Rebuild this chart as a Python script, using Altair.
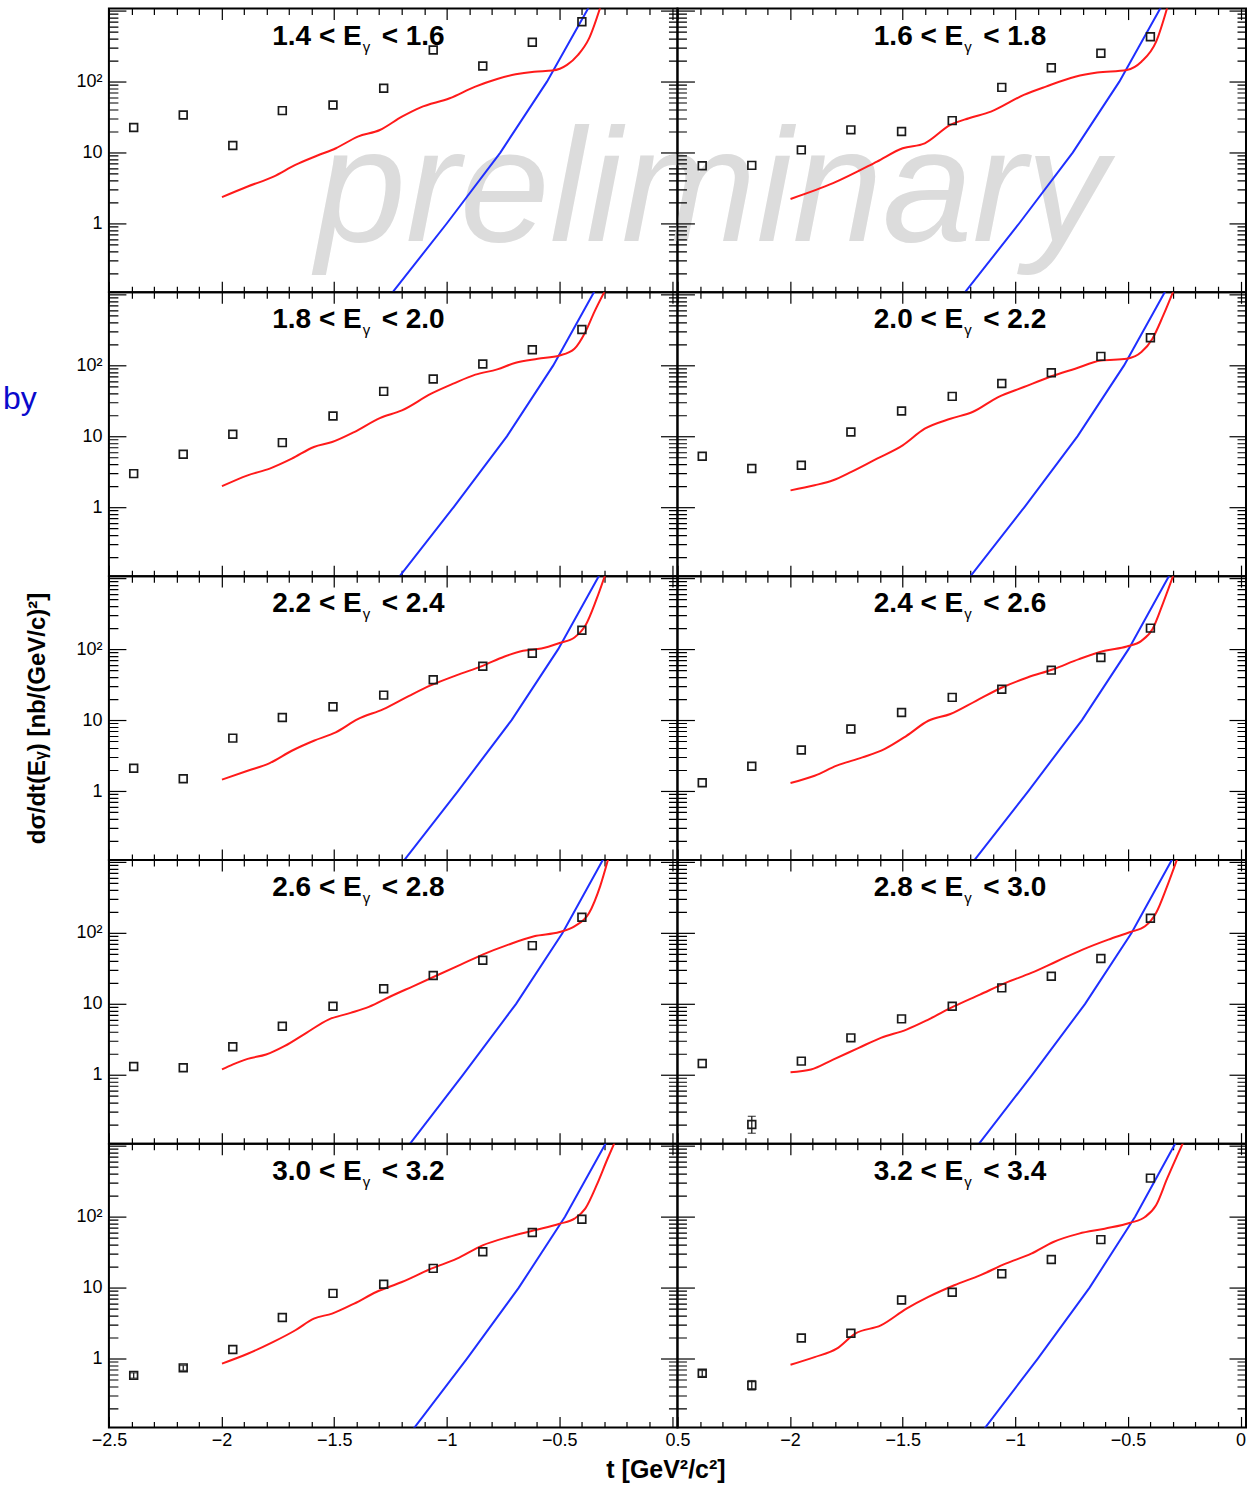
import altair as alt
import pandas as pd

# ---------------- data ----------------
TITLE_LEFT = ["1.4 < E", "1.6 < E", "1.8 < E", "2.0 < E", "2.2 < E",
              "2.4 < E", "2.6 < E", "2.8 < E", "3.0 < E", "3.2 < E"]
TITLE_SUB = "\u03b3"
TITLE_RIGHT = ["< 1.6", "< 1.8", "< 2.0", "< 2.2", "< 2.4",
               "< 2.6", "< 2.8", "< 3.0", "< 3.2", "< 3.4"]

T_POINTS = [-2.39, -2.17, -1.95, -1.73, -1.505, -1.28, -1.06, -0.84, -0.62, -0.40]

V_POINTS = [
    [22.5, 33.9, 12.6, 39, 46.9, 80.5, 279, 166, 358, 700],
    [6.5, 6.6, 10.9, 20.9, 19.8, 28.2, 83, 157, 251, 430],
    [2.98, 5.58, 10.7, 8.15, 19.3, 43, 64.2, 104.5, 166, 321],
    [5.23, 3.51, 3.9, 11.5, 22.7, 36.6, 55.7, 78.8, 134, 245],
    [2.09, 1.49, 5.57, 10.9, 15.4, 22.5, 37, 57.6, 87.8, 185],
    [1.31, 2.23, 3.78, 7.47, 12.8, 20.9, 27.3, 50.6, 76.3, 198],
    [1.31, 1.26, 2.48, 4.85, 9.27, 16.3, 25.1, 41.2, 66.3, 166],
    [1.44, 0.2, 1.56, 3.32, 6.15, 9.27, 16.8, 24.5, 43.5, 161],
    [0.58, 0.74, 1.34, 3.8, 8.3, 11.2, 18.7, 32, 60, 92],
    [0.62, 0.42, 1.95, 2.27, 6.7, 8.6, 15.7, 25, 47.5, 350],
]

# error bars (panel index counted from 0, point index)
ERR_PANEL = [7, 8, 8, 9, 9]
ERR_INDEX = [1, 0, 1, 0, 1]
ERR_LO = [0.15, 0.53, 0.68, 0.56, 0.36]
ERR_HI = [0.26, 0.63, 0.80, 0.68, 0.49]

RED_T = [
    [-1.998, -1.884, -1.769, -1.672, -1.574, -1.492, -1.395, -1.297, -1.199, -1.118, -0.987, -0.873, -0.776, -0.694, -0.612, -0.531, -0.466, -0.417, -0.368, -0.315],
    [-1.998, -1.809, -1.614, -1.5, -1.402, -1.288, -1.206, -1.108, -0.962, -0.864, -0.734, -0.636, -0.505, -0.44, -0.375, -0.322],
    [-1.998, -1.884, -1.786, -1.688, -1.59, -1.509, -1.411, -1.297, -1.199, -1.069, -0.971, -0.873, -0.776, -0.694, -0.596, -0.499, -0.433, -0.385, -0.345, -0.293],
    [-1.998, -1.891, -1.809, -1.728, -1.614, -1.5, -1.402, -1.288, -1.19, -1.076, -0.962, -0.848, -0.734, -0.62, -0.505, -0.44, -0.391, -0.343, -0.294],
    [-1.998, -1.884, -1.786, -1.688, -1.59, -1.493, -1.395, -1.281, -1.167, -1.069, -0.955, -0.841, -0.743, -0.661, -0.58, -0.499, -0.433, -0.385, -0.335, -0.293],
    [-1.998, -1.891, -1.793, -1.679, -1.581, -1.483, -1.386, -1.288, -1.174, -1.059, -0.946, -0.831, -0.717, -0.603, -0.505, -0.44, -0.391, -0.343, -0.294],
    [-1.998, -1.949, -1.884, -1.802, -1.721, -1.623, -1.525, -1.427, -1.346, -1.248, -1.15, -1.052, -0.938, -0.841, -0.726, -0.612, -0.499, -0.433, -0.368, -0.319, -0.28],
    [-1.998, -1.907, -1.809, -1.695, -1.597, -1.483, -1.386, -1.271, -1.157, -1.043, -0.929, -0.815, -0.701, -0.587, -0.489, -0.424, -0.375, -0.326, -0.277],
    [-1.998, -1.884, -1.77, -1.672, -1.59, -1.509, -1.411, -1.313, -1.199, -1.069, -0.955, -0.841, -0.726, -0.612, -0.499, -0.433, -0.385, -0.335, -0.286, -0.25],
    [-1.998, -1.891, -1.793, -1.711, -1.597, -1.483, -1.386, -1.271, -1.157, -1.043, -0.929, -0.831, -0.717, -0.603, -0.489, -0.424, -0.375, -0.326, -0.25],
]
RED_V = [
    [2.35, 3.32, 4.59, 6.70, 9.08, 11.5, 16.8, 20.8, 32.1, 43.1, 58.2, 85.1, 109, 127, 138, 143, 172, 238, 407, 1200],
    [2.22, 3.70, 7.46, 11.5, 13.5, 24.5, 30.5, 37.8, 64.9, 85.1, 117, 134, 146, 191, 363, 1200],
    [1.98, 2.82, 3.51, 4.84, 7.08, 8.32, 11.5, 18.1, 23.2, 39.9, 55.2, 74.0, 87.9, 109, 124, 138, 172, 294, 564, 1200],
    [1.73, 2.04, 2.40, 3.15, 4.84, 7.46, 12.8, 17.7, 22.0, 35.8, 49.5, 68.5, 89.8, 117, 124, 154, 238, 506, 1200],
    [1.45, 1.93, 2.48, 3.70, 5.12, 6.70, 10.3, 14.3, 22.0, 31.1, 43.1, 58.2, 78.8, 94.8, 102, 122, 146, 213, 506, 1200],
    [1.30, 1.64, 2.28, 2.98, 3.91, 6.01, 9.79, 12.2, 18.7, 28.8, 39.9, 52.2, 72.3, 94.8, 109, 131, 191, 454, 1200],
    [1.19, 1.40, 1.68, 1.93, 2.53, 3.91, 6.01, 7.46, 9.08, 12.8, 17.7, 24.5, 35.8, 49.5, 68.5, 89.8, 103, 124, 191, 454, 1200],
    [1.09, 1.19, 1.64, 2.40, 3.32, 4.34, 6.01, 9.27, 13.5, 19.8, 27.3, 39.9, 58.2, 80.5, 103, 124, 191, 454, 1200],
    [0.85, 1.17, 1.72, 2.51, 3.66, 4.31, 5.96, 8.69, 12.0, 18.5, 25.6, 39.4, 51.8, 64.3, 79.6, 93.8, 130, 276, 656, 1200],
    [0.82, 1.05, 1.38, 2.25, 2.94, 5.06, 7.40, 10.8, 14.9, 21.8, 30.1, 44.0, 57.7, 67.8, 82.2, 98.9, 145, 343, 1200],
]

BLUE_V = [0.1, 1, 10, 100, 1000, 3000]
BLUE_T = [
    [-1.248, -1.0, -0.762, -0.555, -0.378, -0.294],
    [-1.231, -0.983, -0.745, -0.538, -0.362, -0.278],
    [-1.216, -0.97, -0.733, -0.527, -0.352, -0.268],
    [-1.206, -0.96, -0.724, -0.517, -0.342, -0.258],
    [-1.195, -0.95, -0.712, -0.505, -0.33, -0.246],
    [-1.188, -0.942, -0.704, -0.497, -0.323, -0.239],
    [-1.17, -0.928, -0.692, -0.486, -0.312, -0.228],
    [-1.168, -0.925, -0.69, -0.484, -0.31, -0.226],
    [-1.15, -0.91, -0.68, -0.475, -0.30, -0.216],
    [-1.14, -0.9, -0.67, -0.468, -0.295, -0.211],
]

Y_TICKS = [0.2, 0.3, 0.4, 0.5, 0.6, 0.7, 0.8, 0.9, 1, 2, 3, 4, 5, 6, 7, 8, 9,
           10, 20, 30, 40, 50, 60, 70, 80, 90, 100, 200, 300, 400, 500, 600, 700, 800, 900, 1000]
X_TICKS = [-2.5, -2.4, -2.3, -2.2, -2.1, -2.0, -1.9, -1.8, -1.7, -1.6, -1.5, -1.4, -1.3, -1.2, -1.1,
           -1.0, -0.9, -0.8, -0.7, -0.6, -0.5, -0.4, -0.3, -0.2, -0.1, 0.0]

Y_TITLE = "d\u03c3/dt(E\u1d67) [nb/(GeV/c)\u00b2]"
X_TITLE = "t [GeV\u00b2/c\u00b2]"

# ---------------- styling ----------------
PANEL_W, PANEL_H = 569, 284
T_DOMAIN = [-2.5, 0.0244]
Y_DOMAIN = [0.107, 1070]
FONT = "Liberation Sans"
YMAJ, YMIN = 17, 9
XMAJ, XMIN = 11, 6

Y_MINOR_TEST = "indexof([1, 10, 100, 1000], datum.value) < 0"
X_MINOR_TEST = "abs(datum.value * 2 - round(datum.value * 2)) > 0.001"
Y_LABEL_EXPR = "datum.value == 1 ? '1' : datum.value == 10 ? '10' : datum.value == 100 ? '10\u00b2' : ''"
X_LABEL_LEFT = ("abs(datum.value * 2 - round(datum.value * 2)) > 0.001 || datum.value > -0.01 ? '' : "
                "format(datum.value, '~g')")
X_LABEL_RIGHT = ("abs(datum.value * 2 - round(datum.value * 2)) > 0.001 ? '' : "
                 "datum.value < -2.49 ? '0.5' : format(datum.value, '~g')")


def y_axis(orient, show_labels, title=None):
    kw = dict(orient=orient, values=Y_TICKS, offset=-YMAJ, tickSize=YMAJ, tickWidth=1.2,
              tickColor="black", domain=False, grid=False, labelOverlap=False,
              tickDash={"condition": {"test": Y_MINOR_TEST, "value": [0, YMAJ - YMIN, YMIN, 0]},
                        "value": [YMAJ, 0]})
    if show_labels:
        kw.update(labels=True, labelExpr=Y_LABEL_EXPR, labelFont=FONT, labelFontSize=18,
                  labelColor="black", labelPadding=7)
    else:
        kw.update(labels=False)
    if title:
        kw.update(title=title, titleFont=FONT, titleFontSize=24, titleFontWeight="bold",
                  titleColor="black", titlePadding=26)
    else:
        kw.update(title=None)
    return alt.Axis(**kw)


def x_axis(orient, label_expr=None, title=None):
    kw = dict(orient=orient, values=X_TICKS, offset=-XMAJ, tickSize=XMAJ, tickWidth=1.2,
              tickColor="black", domain=False, grid=False, labelOverlap=False, labelFlush=False,
              tickDash={"condition": {"test": X_MINOR_TEST, "value": [0, XMAJ - XMIN, XMIN, 0]},
                        "value": [XMAJ, 0]})
    if label_expr:
        kw.update(labels=True, labelExpr=label_expr, labelFont=FONT, labelFontSize=18,
                  labelColor="black", labelPadding=4)
    else:
        kw.update(labels=False)
    if title:
        kw.update(title=title, titleFont=FONT, titleFontSize=25, titleFontWeight="bold",
                  titleColor="black", titlePadding=8, titleX=557)
    else:
        kw.update(title=None)
    return alt.Axis(**kw)


XS = alt.Scale(domain=T_DOMAIN, nice=False, zero=False)
YS = alt.Scale(type="log", domain=Y_DOMAIN, nice=False)


def text_layer(s, x, y, **mk):
    return alt.Chart(pd.DataFrame({"s": [s]})).mark_text(font=FONT, **mk).encode(
        text="s:N", x=alt.value(x), y=alt.value(y))


def panel(i):
    row, col = divmod(i, 2)
    bottom = row == 4
    left = col == 0
    pts = pd.DataFrame({"t": T_POINTS, "v": V_POINTS[i]})
    red = pd.DataFrame({"t": RED_T[i], "v": RED_V[i]})
    blue = pd.DataFrame({"t": BLUE_T[i], "v": BLUE_V})

    if bottom:
        bx = x_axis("bottom", X_LABEL_LEFT if left else X_LABEL_RIGHT,
                    X_TITLE if left else None)
    else:
        bx = x_axis("bottom")
    ly = y_axis("left", left, Y_TITLE if (left and row == 2) else None)

    layers = []
    if i == 0:
        layers.append(text_layer("preliminary", 207, 233, fontSize=162, fontStyle="italic",
                                 color="#dcdcdc", align="left", baseline="alphabetic"))

    blue_l = alt.Chart(blue).mark_line(color="#1f2fff", strokeWidth=2, clip=True).encode(
        x=alt.X("t:Q", scale=XS, axis=None), y=alt.Y("v:Q", scale=YS, axis=None))
    red_l = alt.Chart(red).mark_line(color="#ff1a1a", strokeWidth=2, clip=True,
                                     interpolate="monotone").encode(
        x=alt.X("t:Q", scale=XS, axis=x_axis("top")),
        y=alt.Y("v:Q", scale=YS, axis=y_axis("right", False)))
    pts_l = alt.Chart(pts).mark_point(shape="square", filled=False, size=60, strokeWidth=1.7,
                                      color="#1a1a1a", opacity=1, clip=True).encode(
        x=alt.X("t:Q", scale=XS, axis=bx), y=alt.Y("v:Q", scale=YS, axis=ly))
    layers += [blue_l, red_l, pts_l]

    idx = [k for k, p in enumerate(ERR_PANEL) if p == i]
    if idx:
        err = pd.DataFrame({
            "t": [T_POINTS[ERR_INDEX[k]] for k in idx],
            "lo": [ERR_LO[k] for k in idx],
            "hi": [ERR_HI[k] for k in idx]})
        rule = alt.Chart(err).mark_rule(color="#1a1a1a", strokeWidth=1.3).encode(
            x=alt.X("t:Q", scale=XS, axis=None), y=alt.Y("lo:Q", scale=YS, axis=None), y2="hi:Q")
        caps = alt.Chart(err).transform_fold(["lo", "hi"], as_=["k", "b"]).mark_tick(
            color="#1a1a1a", thickness=1.3, size=8, orient="horizontal").encode(
            x=alt.X("t:Q", scale=XS, axis=None), y=alt.Y("b:Q", scale=YS, axis=None))
        layers += [rule, caps]

    xa = 253 if left else 286
    layers.append(text_layer(TITLE_LEFT[i], xa, 36, fontSize=28, fontWeight="bold",
                             color="black", align="right", baseline="alphabetic"))
    layers.append(text_layer(TITLE_SUB, xa + 1, 43, fontSize=15, fontWeight="normal",
                             color="black", align="left", baseline="alphabetic"))
    layers.append(text_layer(TITLE_RIGHT[i], xa + 20, 36, fontSize=28, fontWeight="bold",
                             color="black", align="left", baseline="alphabetic"))

    if i == 2:
        layers.append(text_layer("by", -106, 107, fontSize=32, color="#0a0acc",
                                 align="left", baseline="middle"))

    return alt.layer(*layers).resolve_axis(x="independent", y="independent").properties(
        width=PANEL_W, height=PANEL_H,
        view=alt.ViewBackground(stroke="black", strokeWidth=2))


chart = alt.concat(*[panel(i) for i in range(10)], columns=2, spacing=0, bounds="flush").properties(
    padding={"left": 2, "top": 0, "right": 2, "bottom": 2},
    background="white"
).configure_view(stroke="black", strokeWidth=2)

chart.save("out.html", embed_options={"renderer": "svg", "actions": False})
